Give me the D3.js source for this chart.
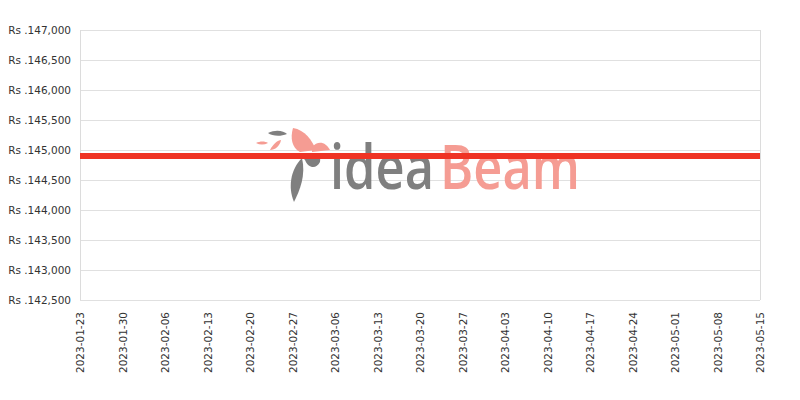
<!DOCTYPE html>
<html><head><meta charset="utf-8">
<script src="https://cdn.jsdelivr.net/npm/d3@7"></script>
<style>body{margin:0;background:#fff}svg{display:block}</style>
</head><body>
<svg id="c" width="800" height="400"></svg>
<script>
const dates = ["2023-01-23","2023-01-30","2023-02-06","2023-02-13","2023-02-20","2023-02-27","2023-03-06","2023-03-13","2023-03-20","2023-03-27","2023-04-03","2023-04-10","2023-04-17","2023-04-24","2023-05-01","2023-05-08","2023-05-15"];
const prices = [144900,144900,144900,144900,144900,144900,144900,144900,144900,144900,144900,144900,144900,144900,144900,144900,144900];
const yTicks = [142500,143000,143500,144000,144500,145000,145500,146000,146500,147000];

const parse = d3.timeParse("%Y-%m-%d");
const fmt = d3.timeFormat("%Y-%m-%d");
const data = dates.map((d,i)=>({date:parse(d), v:prices[i]}));
const m = {l:80, r:40, t:30, b:100};
const W = 800, H = 400;
const svg = d3.select("#c");
const x = d3.scaleTime().domain([parse(dates[0]), parse(dates[dates.length-1])]).range([m.l, W-m.r]);
const y = d3.scaleLinear().domain([142500,147000]).range([H-m.b, m.t]);
const font = "'DejaVu Sans', sans-serif";

// grid
svg.append("g").selectAll("line").data(yTicks).join("line")
  .attr("x1", m.l).attr("x2", W-m.r)
  .attr("y1", d=>y(d)+0.5).attr("y2", d=>y(d)+0.5)
  .attr("stroke", "#e0e0e0").attr("stroke-width", 1);
svg.append("line").attr("x1", m.l+0.5).attr("x2", m.l+0.5).attr("y1", m.t).attr("y2", H-m.b)
  .attr("stroke", "#dcdcdc");
svg.append("line").attr("x1", W-m.r+0.5).attr("x2", W-m.r+0.5).attr("y1", m.t).attr("y2", H-m.b)
  .attr("stroke", "#dcdcdc");

// watermark
const wm = svg.append("g");
function fitText(txt, x0, width, color) {
  const t = wm.append("text").attr("font-family", "'Open Sans', sans-serif").attr("font-weight", 600)
    .attr("font-size", 62).attr("fill", color).text(txt);
  const w = t.node().getComputedTextLength();
  t.attr("transform", `translate(${x0},189) scale(${width / w},1)`);
}
fitText("idea", 330, 104, "#7f7f7f");
fitText("Beam", 440, 140, "#f59c93");
// bird
wm.append("path").attr("d","M293,128 C305,130 312,140 316,150 L300,152 C292,148 290,138 293,128 Z").attr("fill","#f59c93");
wm.append("path").attr("d","M312,147 C318,140 326,142 330,150 L312,152 Z").attr("fill","#f59c93");
wm.append("path").attr("d","M300,155 C312,152 322,152 320,162 C316,170 308,168 305,160 Z").attr("fill","#7f7f7f");
wm.append("path").attr("d","M302,158 C306,175 300,190 294,202 C288,188 290,170 302,158 Z").attr("fill","#7f7f7f");
wm.append("path").attr("d","M268,133 C276,129 284,131 287,134 C280,137 272,136 268,133 Z").attr("fill","#7f7f7f");
wm.append("path").attr("d","M256,143 C260,141 265,141 268,143 C264,145 260,145 256,143 Z").attr("fill","#f59c93");
wm.append("path").attr("d","M270,150 C273,144 278,140 281,140 C280,146 275,150 270,150 Z").attr("fill","#f59c93");

// line
svg.append("path").datum(data)
  .attr("d", d3.line().x(d=>x(d.date)).y(d=>y(d.v)))
  .attr("fill","none").attr("stroke","#ef3324").attr("stroke-width",6);

// y labels
svg.append("g").selectAll("text").data(yTicks).join("text")
  .attr("x", 71).attr("y", d=>y(d)).attr("dy","0.35em").attr("text-anchor","end")
  .attr("font-family", font).attr("font-size", 10.5).attr("fill","#333")
  .text(d=>"Rs ." + d3.format(",")(d));

// x labels
svg.append("g").selectAll("text").data(data).join("text")
  .attr("transform", d=>`translate(${x(d.date)+4},${H-m.b+12}) rotate(-90)`)
  .attr("text-anchor","end")
  .attr("font-family", font).attr("font-size", 10.5).attr("fill","#333")
  .text(d=>fmt(d.date));
</script>
</body></html>
